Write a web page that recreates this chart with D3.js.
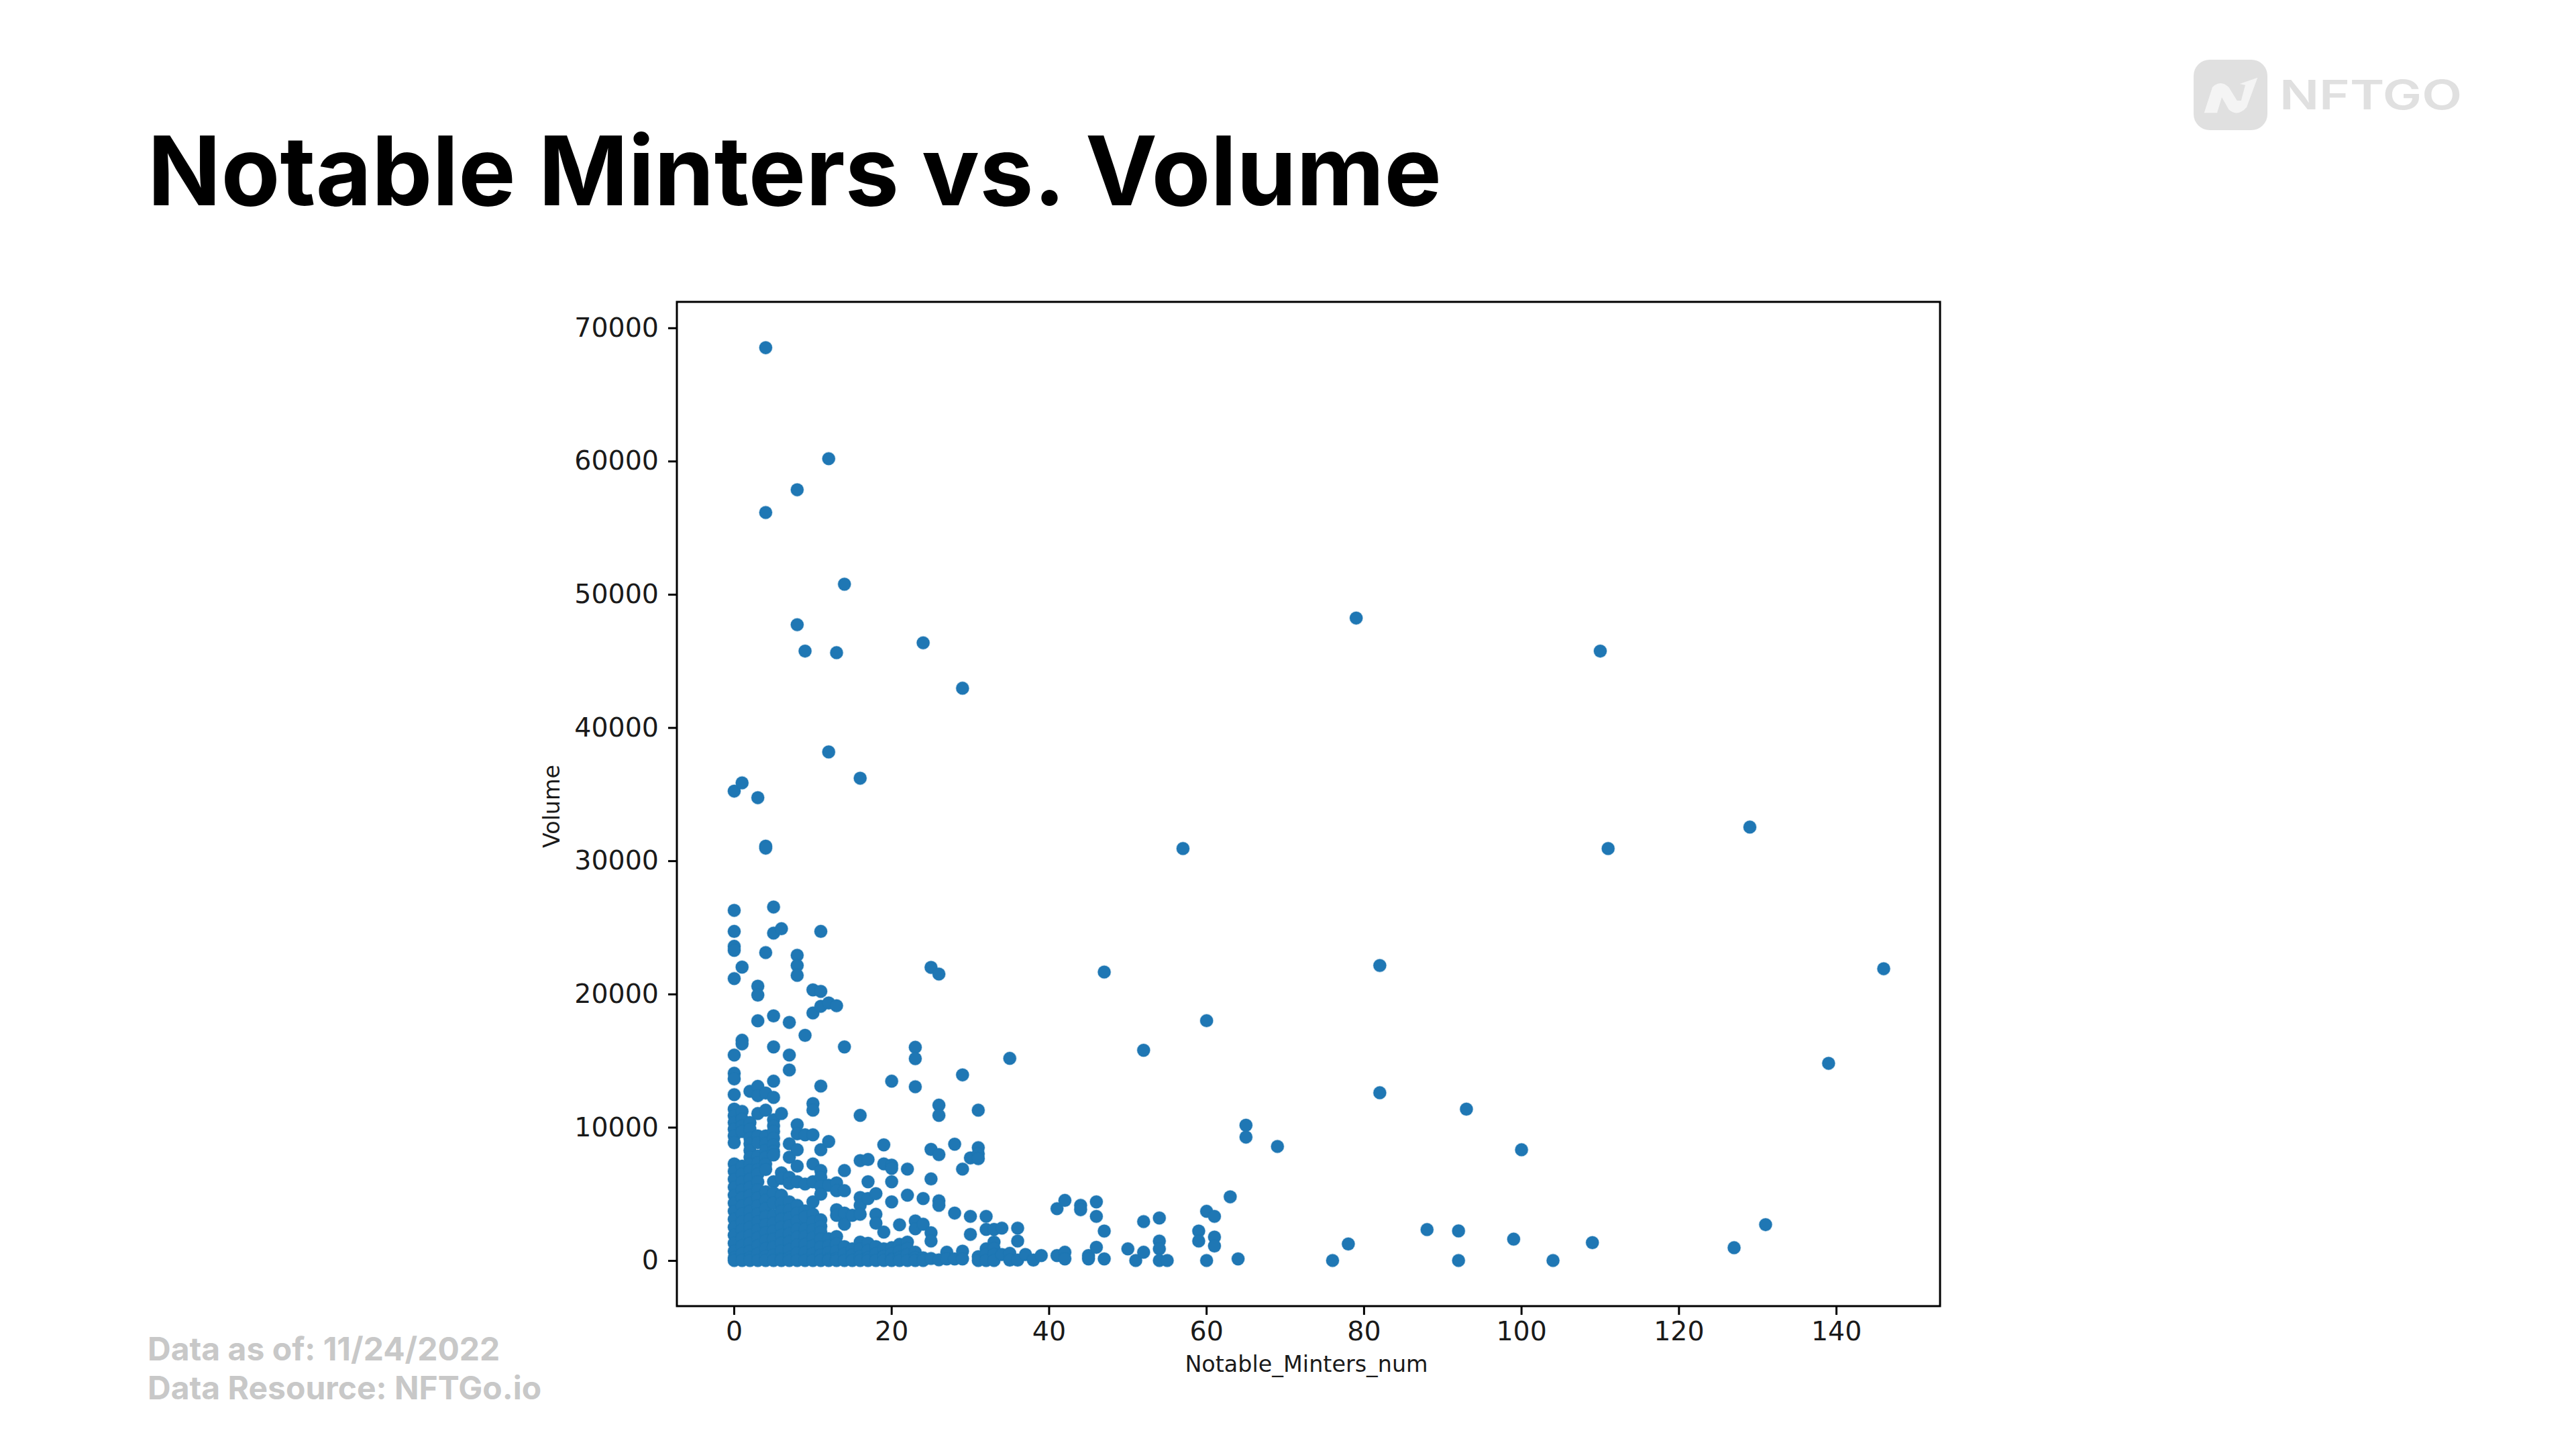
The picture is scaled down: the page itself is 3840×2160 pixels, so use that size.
<!DOCTYPE html>
<html><head><meta charset="utf-8">
<script src="https://cdn.jsdelivr.net/npm/d3@7/dist/d3.min.js"></script>
<style>html,body{margin:0;padding:0;background:#fff}svg{display:block}</style>
</head><body><div id="chart"></div>
<script>
const chartTitle = "Notable Minters vs. Volume";
const footerLines = ["Data as of: 11/24/2022", "Data Resource: NFTGo.io"];
const xLabel = "Notable_Minters_num";
const yLabel = "Volume";
const xTicks = [0,20,40,60,80,100,120,140];
const yTicks = [0,10000,20000,30000,40000,50000,60000,70000];
const xDomain = [-7.24,153.2];
const yDomain = [-3424,71950];

// Notable minter counts, and the volumes read at each count (same order)
const minterCounts = [0,1,2,3,4,5,6,7,8,9,10,11,12,13,14,15,16,17,18,19,20,21,22,23,24,25,26,27,28,29,30,31,32,33,34,35,36,37,38,39,41,42,44,45,46,47,50,51,52,54,55,57,59,60,61,63,64,65,69,76,78,79,82,88,92,93,99,100,104,109,110,111,127,129,131,139,146];
const volumesPerCount = [
 [35230,26280,24700,23580,23280,21160,15420,14050,13630,12450,11360,10860,10350,9850,9350,8840,7250,6700,6100,5500,4900,4300,3700,3100,2500,1900,1300,700,200,0],
 [35850,22020,16530,16260,11190,10610,10110,9680,7080,6500,5900,5300,4700,4100,3500,2900,2300,1700,1100,500,0],
 [12700,10350,9850,9180,8760,8260,7750,7250,6750,6100,5500,4900,4300,3700,3100,2500,1900,1300,700,200,0],
 [34740,20590,19920,17990,13070,12370,11030,9350,8840,7840,7330,6830,6490,5900,5300,4700,4100,3500,2900,2300,1700,1100,500,0],
 [68510,56140,31100,30950,23110,12570,11280,9350,8760,8260,7750,7250,6830,5150,4500,3900,3300,2700,2100,1500,900,300,0],
 [26530,24570,18360,16030,13460,12240,10560,10100,9680,9180,8680,8170,7920,5910,5070,4310,3390,2800,2200,1600,1000,400,0],
 [24900,11030,6580,6160,4900,4300,3700,3100,2500,1900,1300,700,100,0],
 [17870,15420,14300,8760,7750,6240,5790,4400,3800,3200,2600,2000,1400,800,200,0],
 [57850,47720,22910,22140,21400,10190,9510,8310,7080,5910,4140,3550,2950,2350,1750,1150,550,0],
 [45740,16900,9430,5740,3720,3270,2360,1800,1200,600,0],
 [20310,18580,11780,11280,9430,7250,5910,4400,3470,2900,2300,1700,1100,500,0],
 [24700,20200,19080,13090,8310,6750,6240,5570,4980,3050,2550,2130,1600,1000,400,0],
 [60180,38170,19330,8930,5650,1630,1100,600,100,0],
 [45620,19120,5820,5240,3810,3390,1795,1250,700,150,0],
 [50760,16030,6750,5240,3560,2720,1040,500,0],
 [3390,870,400,0],
 [36200,10890,7500,4730,4140,3470,1380,850,300,0],
 [7580,5910,4650,1290,750,200,0],
 [5020,3470,2800,1040,500,0],
 [8680,7250,2130,870,300,0],
 [13460,7160,6910,5910,4400,960,500,100,0],
 [2680,1210,700,200,0],
 [6860,4900,1380,900,450,0],
 [16000,15150,13040,2970,2380,620,200,0],
 [46360,4650,2720,200,0],
 [22000,8340,6120,2080,1460,150],
 [21500,11660,10890,7950,4480,4140,50],
 [620,120],
 [8730,3560,120],
 [42950,13930,6860,700,120],
 [7700,3310,1960],
 [11280,8470,8000,7640,285,0],
 [3310,2330,870,450,0],
 [2330,1380,900,450,0],
 [2430,450],
 [15170,540,30],
 [2430,1460,30],
 [450],[30],[370],
 [3890,370],
 [4510,620,120],
 [4140,3810],
 [370,120],
 [4400,3310,990],
 [21650,2210,120],
 [870],[0],
 [15780,2920,620],
 [3190,1460,870,0],
 [0],[30920],
 [2210,1460],
 [18000,3690,0],
 [3310,1760,1090],
 [4780],[120],
 [10150,9260],
 [8560],[0],[1240],[48220],
 [22140,12590],
 [2320],
 [2220,0],
 [11360],[1600],[8310],[0],[1340],[45740],[30920],[960],[32530],[2690],[14800],[21900]
];

const W = 3840, H = 2160;
const plot = {left:1009, right:2892, top:450, bottom:1947};
const svg = d3.select("#chart").append("svg").attr("width",W).attr("height",H).attr("viewBox",`0 0 ${W} ${H}`);
svg.append("rect").attr("width",W).attr("height",H).attr("fill","#fff");

const x = d3.scaleLinear().domain(xDomain).range([plot.left,plot.right]);
const y = d3.scaleLinear().domain(yDomain).range([plot.bottom,plot.top]);
const points = minterCounts.flatMap((m,i)=>volumesPerCount[i].map(v=>({m,v})));

svg.append("g").selectAll("circle").data(points).join("circle")
  .attr("cx",d=>x(d.m)+0.5).attr("cy",d=>y(d.v)).attr("r",9.6).attr("fill","#1f77b4")
  .attr("stroke","#1f77b4").attr("stroke-opacity",0.3).attr("stroke-width",1.6);

const tickFont = "'DejaVu Sans'";
const xAxis = svg.append("g").attr("transform",`translate(0,${plot.bottom})`)
  .call(d3.axisBottom(x).tickValues(xTicks).tickFormat(d3.format("d")).tickSize(13).tickPadding(10));
const yAxis = svg.append("g").attr("transform",`translate(${plot.left},0)`)
  .call(d3.axisLeft(y).tickValues(yTicks).tickFormat(d3.format("d")).tickSize(13).tickPadding(14));
[xAxis,yAxis].forEach(a=>{
  a.select(".domain").remove();
  a.selectAll("line").attr("stroke","#000").attr("stroke-width",3);
  a.selectAll("text").attr("font-family",tickFont).attr("font-size",39.5).attr("fill","#1a1a1a");
});
svg.append("rect").attr("x",plot.left).attr("y",plot.top)
  .attr("width",plot.right-plot.left).attr("height",plot.bottom-plot.top)
  .attr("fill","none").attr("stroke","#000").attr("stroke-width",3);

svg.append("text").attr("x",(plot.left+plot.right)/2-3).attr("y",2045).attr("text-anchor","middle")
  .attr("font-family",tickFont).attr("font-size",33.4).attr("fill","#1a1a1a").text(xLabel);
svg.append("text").attr("transform","translate(834,1202) rotate(-90)").attr("text-anchor","middle")
  .attr("font-family",tickFont).attr("font-size",33.4).attr("fill","#1a1a1a").text(yLabel);

svg.append("text").attr("x",220).attr("y",305.5)
  .attr("font-family","Inter").attr("font-weight",700).attr("font-size",143.5).attr("fill","#000").text(chartTitle);

svg.append("g").selectAll("text").data(footerLines).join("text")
  .attr("x",220).attr("y",(d,i)=>2028+i*58)
  .attr("font-family","Inter").attr("font-weight",700).attr("font-size",48).attr("fill","#c8c8c8").text(d=>d);

// Logo
const logo = svg.append("g");
logo.append("rect").attr("x",3270).attr("y",89).attr("width",110).attr("height",105).attr("rx",24).attr("fill","#e0e0e0");
logo.append("path").attr("fill","#f4f4f4")
  .attr("d","M3285.7 168.3L3298 130Q3310 118 3322.4 130L3334.7 150H3340.8L3347 126.7L3338.8 125L3365.3 115.7L3349 160Q3335 175 3322.4 163.3L3312 145L3305 168.3Z");
logo.append("text").attr("x",3398).attr("y",163)
  .attr("font-family","Inter").attr("font-weight",600).attr("font-size",60).attr("fill","#e0e0e0")
  .attr("textLength",272).attr("lengthAdjust","spacingAndGlyphs").text("NFTGO");
</script></body></html>
